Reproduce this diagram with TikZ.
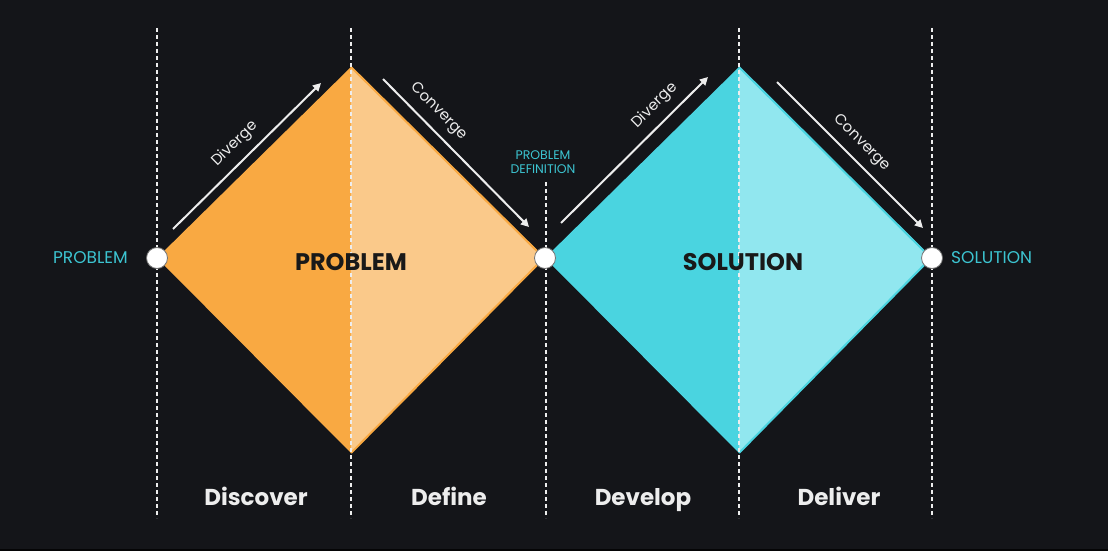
\documentclass[tikz,border=0pt]{standalone}
\usepackage{fontspec}
\setmainfont{Poppins}
\usetikzlibrary{arrows.meta}
\definecolor{bg}{HTML}{141519}
\definecolor{orangedark}{HTML}{F9A942}
\definecolor{orangelight}{HTML}{FAC98A}
\definecolor{cyandark}{HTML}{4AD4E0}
\definecolor{cyanlight}{HTML}{91E7EF}
\definecolor{labelcyan}{HTML}{3CC4D1}
\definecolor{textwhite}{HTML}{EDEDED}
\begin{document}
\begin{tikzpicture}[x=1pt, y=-1pt,
    guide/.style={textwhite, dash pattern=on 4pt off 3pt, line width=1.2pt},
    dot/.style={circle, fill=white, draw=black!55, line width=0.8pt, minimum size=21pt, inner sep=0pt},
    flow/.style={textwhite, line width=2pt, -{Triangle[length=8pt,width=8pt]}},
    flowlabel/.style={textwhite, font=\fontsize{15}{15}\selectfont, sloped, above=5pt},
    phase/.style={textwhite, anchor=base, font=\fontsize{23}{23}\selectfont\bfseries},
    endlabel/.style={labelcyan, font=\fontsize{17}{17}\selectfont},
    biglabel/.style={black!90, font=\fontsize{24}{24}\selectfont\bfseries}]
    \useasboundingbox (0,0) rectangle (1108,551);
    \fill[bg] (0,0) rectangle (1108,551);
    \fill[black!75!bg] (0,549) rectangle (1108,551);

    \coordinate (ptop) at (351,67);
    \coordinate (pbot) at (351,453);
    \coordinate (stop) at (739,67);
    \coordinate (sbot) at (739,453);

    \fill[orangedark] (157,258) -- (ptop) -- (pbot) -- cycle;
    \fill[orangelight] (ptop) -- (545,258) -- (pbot) -- cycle;
    \draw[orangedark, line width=2pt, line join=miter] (ptop) -- (544,258) -- (pbot);
    \fill[cyandark] (545,258) -- (stop) -- (sbot) -- cycle;
    \fill[cyanlight] (stop) -- (932,258) -- (sbot) -- cycle;
    \draw[cyandark, line width=2pt, line join=miter] (stop) -- (931,258) -- (sbot);

    \draw[guide] (157,28) -- (157,518);
    \draw[guide] (351,28) -- (351,518);
    \draw[guide] (546,182) -- (546,518);
    \draw[guide] (739,28) -- (739,518);
    \draw[guide] (932,28) -- (932,518);

    \node[dot] (start) at (157,258) {};
    \node[dot] (middle) at (545,258) {};
    \node[dot] (finish) at (932,258) {};

    \coordinate (d1a) at (173,229);
    \coordinate (d1b) at (321,83);
    \coordinate (c1a) at (383,79);
    \coordinate (c1b) at (529,227);
    \coordinate (d2a) at (561,223);
    \coordinate (d2b) at (708,77);
    \coordinate (c2a) at (777,82);
    \coordinate (c2b) at (923,228);

    \draw[flow] (d1a) -- (d1b) node[flowlabel, midway] {Diverge};
    \draw[flow] (c1a) -- (c1b) node[flowlabel, pos=0.3] {Converge};
    \draw[flow] (d2a) -- (d2b) node[flowlabel, pos=0.72] {Diverge};
    \draw[flow] (c2a) -- (c2b) node[flowlabel, midway] {Converge};

    \node[endlabel, anchor=east, inner sep=0pt] (problemin) at (128,258) {PROBLEM};
    \node[endlabel, anchor=west, inner sep=0pt] (solutionout) at (951,258) {SOLUTION};
    \node[labelcyan, align=center, font=\fontsize{12.5}{14.5}\selectfont] (definition) at (543,162) {PROBLEM\\DEFINITION};

    \node[biglabel] (problem) at (351,262) {PROBLEM};
    \node[biglabel] (solution) at (743,262) {SOLUTION};

    \node[phase] (discover) at (256,505) {Discover};
    \node[phase] (define) at (449,505) {Define};
    \node[phase] (develop) at (643,505) {Develop};
    \node[phase] (deliver) at (839,505) {Deliver};
\end{tikzpicture}
\end{document}
